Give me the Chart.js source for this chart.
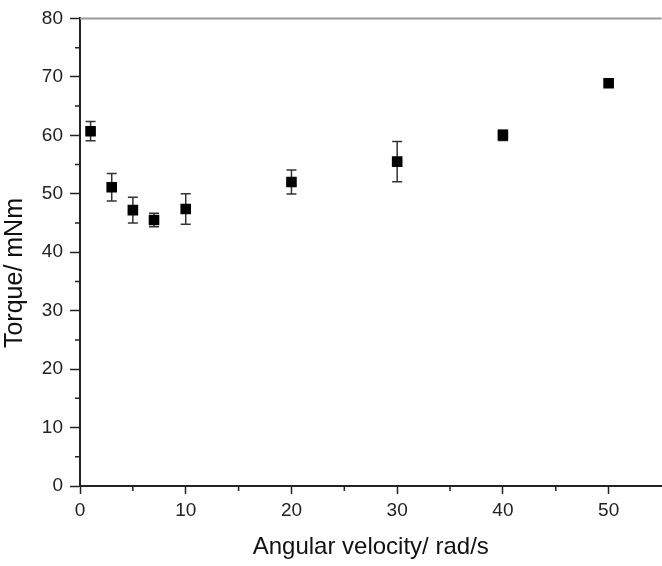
<!DOCTYPE html>
<html>
<head>
<meta charset="utf-8">
<script src="https://cdn.jsdelivr.net/npm/chart.js@4/dist/chart.umd.min.js"></script>
<style>
    html, body { margin: 0; padding: 0; background: #fff; overflow: hidden; }
    #wrap { width: 662px; height: 566px; overflow: hidden; }
    canvas { display: block; }
</style>
</head>
<body>
<div id="wrap"><canvas id="torqueChart" width="669" height="566"></canvas></div>
<script>
// angular velocity (rad/s) vs torque (mNm)
const velocity = [1, 3, 5, 7, 10, 20, 30, 40, 50];
const torque = [60.7, 51.1, 47.2, 45.5, 47.4, 52.0, 55.5, 60.0, 68.9];
const torqueErr = [1.65, 2.35, 2.2, 1.15, 2.6, 2.05, 3.45, 0.9, 0.5];

const xMinor = [5, 15, 25, 35, 45];
const yMinor = [5, 15, 25, 35, 45, 55, 65, 75];

const FONT = "'Liberation Sans', Arial, sans-serif";
const AXIS = "#222";

const errorBars = {
    id: "errorBars",
    beforeDatasetsDraw(chart) {
        const { ctx, scales: { x, y } } = chart;
        const cap = 5;
        ctx.save();
        ctx.strokeStyle = "#333";
        ctx.lineWidth = 1.5;
        velocity.forEach((v, i) => {
            const px = x.getPixelForValue(v);
            const top = y.getPixelForValue(torque[i] + torqueErr[i]);
            const bot = y.getPixelForValue(torque[i] - torqueErr[i]);
            ctx.beginPath();
            ctx.moveTo(px, top); ctx.lineTo(px, bot);
            ctx.moveTo(px - cap, top); ctx.lineTo(px + cap, top);
            ctx.moveTo(px - cap, bot); ctx.lineTo(px + cap, bot);
            ctx.stroke();
        });
        ctx.restore();
    }
};

const frame = {
    id: "frame",
    afterDraw(chart) {
        const { ctx, chartArea: a, scales: { x, y } } = chart;
        ctx.save();
        // top frame line (grey)
        ctx.strokeStyle = "#9a9a9a";
        ctx.lineWidth = 2;
        ctx.beginPath();
        ctx.moveTo(a.left, a.top);
        ctx.lineTo(a.right, a.top);
        ctx.stroke();
        // minor ticks
        ctx.strokeStyle = AXIS;
        ctx.lineWidth = 1.5;
        ctx.beginPath();
        xMinor.forEach(v => {
            const px = x.getPixelForValue(v);
            ctx.moveTo(px, a.bottom); ctx.lineTo(px, a.bottom + 5);
        });
        yMinor.forEach(v => {
            const py = y.getPixelForValue(v);
            ctx.moveTo(a.left, py); ctx.lineTo(a.left - 5, py);
        });
        ctx.stroke();
        ctx.restore();
    }
};

new Chart(document.getElementById("torqueChart"), {
    type: "scatter",
    data: {
        datasets: [{
            data: velocity.map((v, i) => ({ x: v, y: torque[i] })),
            pointStyle: "rect",
            pointRadius: 7.5,
            pointBorderWidth: 0,
            backgroundColor: "#000",
            borderColor: "#000",
        }]
    },
    options: {
        responsive: false,
        animation: false,
        layout: { padding: { top: 15, right: 0, left: 0, bottom: 0 } },
        plugins: { legend: { display: false }, tooltip: { enabled: false } },
        scales: {
            x: {
                type: "linear", min: 0, max: 55,
                afterFit: s => { s.height = 80; },
                border: { display: true, color: AXIS, width: 2 },
                grid: { drawOnChartArea: false, drawTicks: true, tickLength: 8, tickColor: AXIS, tickWidth: 1.5 },
                ticks: { stepSize: 10, includeBounds: false, padding: 5, color: AXIS, font: { family: FONT, size: 19 } },
                title: {
                    display: true, text: "Angular velocity/ rad/s", color: "#111",
                    padding: { top: 0, bottom: 4 }, font: { family: FONT, size: 24 }
                }
            },
            y: {
                type: "linear", min: 0, max: 80,
                afterFit: s => { s.width = 80; },
                border: { display: true, color: AXIS, width: 2 },
                grid: { drawOnChartArea: false, drawTicks: true, tickLength: 10, tickColor: AXIS, tickWidth: 1.5 },
                ticks: { stepSize: 10, padding: 7, color: AXIS, font: { family: FONT, size: 19 } },
                title: {
                    display: true, text: "Torque/ mNm      ", color: "#111",
                    padding: { top: 0, bottom: 0 }, font: { family: FONT, size: 25 }
                }
            }
        }
    },
    plugins: [errorBars, frame]
});
</script>
</body>
</html>
